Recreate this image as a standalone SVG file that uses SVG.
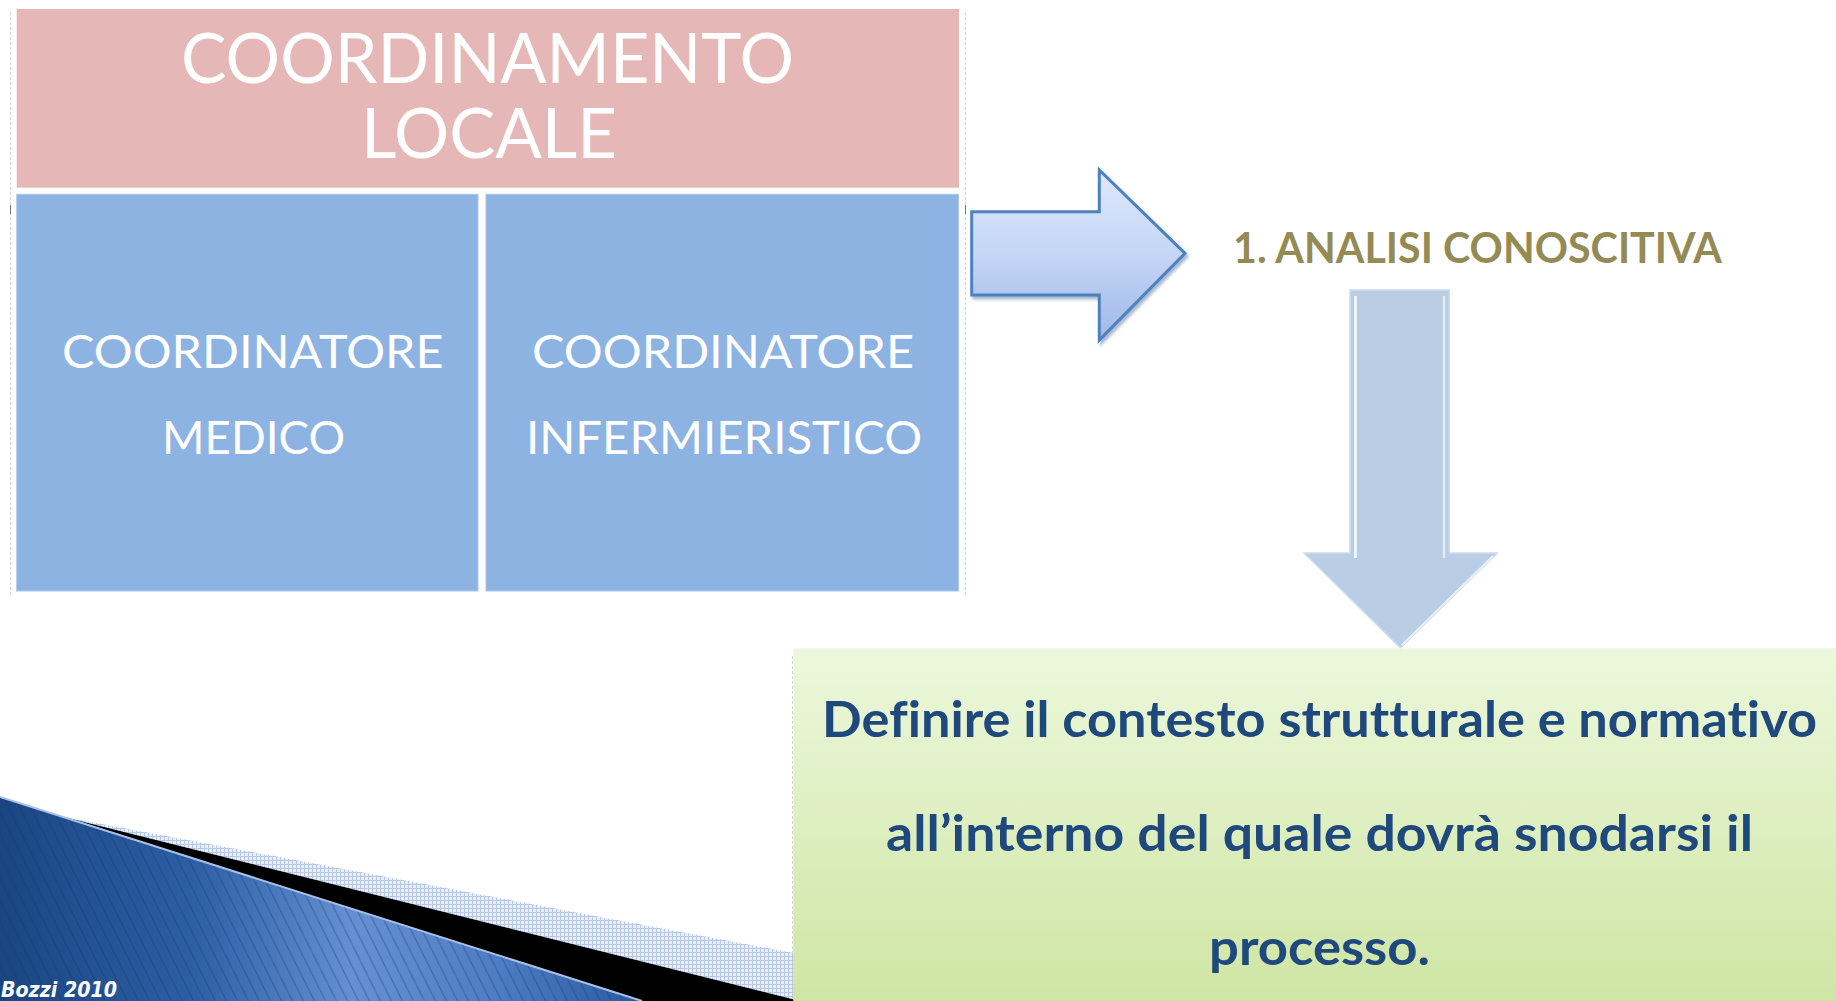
<svg xmlns="http://www.w3.org/2000/svg" width="1836" height="1001" viewBox="0 0 1836 1001">
  <style>
    text { font-variant-ligatures: none; font-feature-settings: "liga" 0, "clig" 0; }
    .w { fill: #ffffff; font-family: Lato, "Open Sans", "Liberation Sans", sans-serif; text-anchor: middle; }
    .olive { fill: #948a54; font-family: Lato, "Open Sans", "Liberation Sans", sans-serif; font-weight: bold; }
    .navy { fill: #1f497d; font-family: Lato, "Open Sans", "Liberation Sans", sans-serif; font-weight: bold; text-anchor: middle; }
    .faint { stroke: #d6d6d6; stroke-width: 1; stroke-dasharray: 3 2; fill: none; }
  </style>
  <defs>
    <linearGradient id="arrowGrad" x1="0" y1="0" x2="0" y2="1">
      <stop offset="0" stop-color="#dde8fc"/>
      <stop offset="0.5" stop-color="#c4d6f6"/>
      <stop offset="1" stop-color="#9fb8e8"/>
    </linearGradient>
    <linearGradient id="greenGrad" x1="0" y1="0" x2="0" y2="1">
      <stop offset="0" stop-color="#ecf8dc"/>
      <stop offset="1" stop-color="#cfe5a4"/>
    </linearGradient>
    <linearGradient id="swooshGrad" gradientUnits="userSpaceOnUse" x1="0" y1="0" x2="642" y2="0">
      <stop offset="0" stop-color="#1a4582"/>
      <stop offset="0.3" stop-color="#2d5fa5"/>
      <stop offset="0.55" stop-color="#6690d2"/>
      <stop offset="0.78" stop-color="#4e7cc2"/>
      <stop offset="1" stop-color="#2a5aa1"/>
    </linearGradient>
    <pattern id="stripes" patternUnits="userSpaceOnUse" width="11" height="10" patternTransform="skewX(26.57)">
      <line x1="0.8" y1="0" x2="0.8" y2="10" stroke="#153a70" stroke-opacity="0.35" stroke-width="1.5"/>
    </pattern>
    <pattern id="grid" patternUnits="userSpaceOnUse" width="4" height="4">
      <rect width="4" height="4" fill="#e9eef8"/>
      <path d="M0 0.5H4M0.5 0V4" stroke="#b7c7e6" stroke-width="1"/>
    </pattern>
    <filter id="shadow" x="-10%" y="-10%" width="130%" height="130%">
      <feDropShadow dx="2" dy="3" stdDeviation="1.5" flood-color="#3a5f99" flood-opacity="0.45"/>
    </filter>
  </defs>

  <rect width="1836" height="1001" fill="#ffffff"/>

  <!-- faint table guide lines -->
  <g id="guides">
    <line class="faint" x1="10.5" y1="12" x2="10.5" y2="597"/>
    <line class="faint" x1="965.5" y1="12" x2="965.5" y2="597"/>
    <line x1="10.5" y1="205" x2="10.5" y2="214" stroke="#777" stroke-width="1"/>
    <line x1="965.5" y1="205" x2="965.5" y2="214" stroke="#777" stroke-width="1"/>
    <line class="faint" x1="792.5" y1="656" x2="792.5" y2="1001" stroke="#888"/>
  </g>

  <!-- bottom-left decoration -->
  <g id="swoosh">
    <polygon points="0,805 794,953 794,1001 0,1001" fill="url(#grid)"/>
    <polygon points="0,801 800,1001 0,1001" fill="#000000"/>
    <polygon points="0,797 642,1001 0,1001" fill="url(#swooshGrad)"/>
    <polygon points="0,797 642,1001 0,1001" fill="url(#stripes)"/>
    <line x1="0" y1="797" x2="642" y2="1001" stroke="#a9c0e6" stroke-width="2"/>
    <text x="1" y="997" textLength="116" lengthAdjust="spacingAndGlyphs" font-family="'DejaVu Sans', Verdana, sans-serif" font-weight="bold" font-style="italic" font-size="22" fill="#ffffff">Bozzi 2010</text>
  </g>

  <!-- nodes -->
  <g id="coordinamento-locale">
    <rect x="16.7" y="9" width="942.3" height="178.7" fill="#e5b8b7"/>
    <text class="w" font-size="70"><tspan x="487.5" y="83" textLength="613" lengthAdjust="spacingAndGlyphs">COORDINAMENTO</tspan><tspan x="489" y="157.7" textLength="256" lengthAdjust="spacingAndGlyphs">LOCALE</tspan></text>
  </g>

  <g id="coordinatore-medico">
    <rect x="16.7" y="194.3" width="461.3" height="396.7" fill="#8db3e2" stroke="#a9c6ec" stroke-width="1"/>
    <text class="w" x="252.8" y="368" font-size="47" textLength="381.5" lengthAdjust="spacingAndGlyphs">COORDINATORE</text>
    <text class="w" x="253.5" y="454" font-size="47" textLength="183" lengthAdjust="spacingAndGlyphs">MEDICO</text>
  </g>

  <g id="coordinatore-infermieristico">
    <rect x="486" y="194.3" width="472.5" height="396.7" fill="#8db3e2" stroke="#a9c6ec" stroke-width="1"/>
    <text class="w" x="723" y="368" font-size="47" textLength="382" lengthAdjust="spacingAndGlyphs">COORDINATORE</text>
    <text class="w" x="724" y="454" font-size="47" textLength="396" lengthAdjust="spacingAndGlyphs">INFERMIERISTICO</text>
  </g>

  <g id="analisi-conoscitiva">
    <text class="olive" x="1233" y="263.3" font-size="42" textLength="489" lengthAdjust="spacingAndGlyphs">1. ANALISI CONOSCITIVA</text>
  </g>

  <!-- connectors (block arrows) -->
  <g id="connectors">
    <polygon id="arrow-right" points="971.7,211.7 1099.3,211.7 1099.3,170 1185,253.3 1099.3,340 1099.3,295 971.7,295" fill="url(#arrowGrad)" stroke="#4f81bd" stroke-width="3" stroke-linejoin="miter" filter="url(#shadow)"/>
    <g id="arrow-down">
      <polygon points="1350,290 1449.3,290 1449.3,553 1497.3,553 1400.5,648 1304,553 1350,553" fill="#b9cde5" stroke="#cddcf0" stroke-width="1.5"/>
      <line x1="1355.5" y1="296" x2="1355.5" y2="558" stroke="#eef4fc" stroke-width="3"/>
      <line x1="1444" y1="296" x2="1444" y2="558" stroke="#e2ecf8" stroke-width="2.5"/>
      <line x1="1493" y1="556" x2="1402" y2="645" stroke="#e8f0fa" stroke-width="2"/>
    </g>
  </g>

  <g id="definire-box">
    <rect x="793.3" y="648.3" width="1042.7" height="352.7" fill="url(#greenGrad)"/>
    <text class="navy" x="1319.5" y="736.7" font-size="49" textLength="995" lengthAdjust="spacingAndGlyphs">Definire il contesto strutturale e normativo</text>
    <text class="navy" x="1319.5" y="850.7" font-size="49" textLength="867" lengthAdjust="spacingAndGlyphs">all’interno del quale dovrà snodarsi il</text>
    <text class="navy" x="1319.5" y="965" font-size="49" textLength="221" lengthAdjust="spacingAndGlyphs">processo.</text>
  </g>
</svg>
